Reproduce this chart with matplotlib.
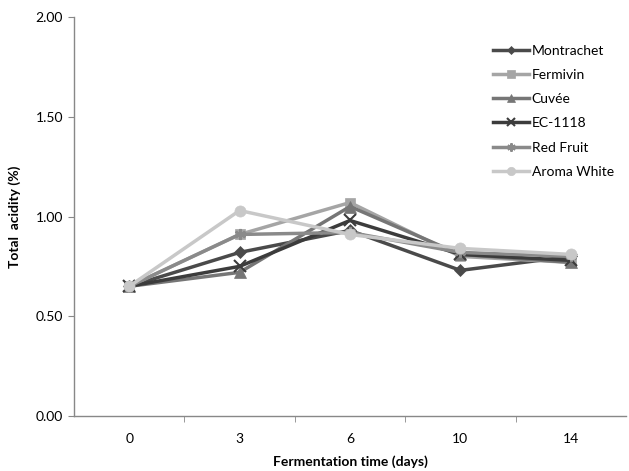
import matplotlib
matplotlib.use("Agg")
import matplotlib.pyplot as plt
import numpy as np

plt.rcParams['font.family'] = ['Lato', 'DejaVu Sans']

days = ["0", "3", "6", "10", "14"]
montrachet = [0.65, 0.82, 0.93, 0.73, 0.80]
fermivin = [0.65, 0.91, 1.07, 0.80, 0.77]
cuvee = [0.65, 0.72, 1.05, 0.81, 0.77]
ec1118 = [0.65, 0.75, 0.98, 0.81, 0.78]
red_fruit = [0.65, 0.91, 0.92, 0.82, 0.80]
aroma_white = [0.65, 1.03, 0.91, 0.84, 0.81]

series = [
    ("Montrachet", montrachet, "#4a4a4a", "D", 6),
    ("Fermivin", fermivin, "#a5a5a5", "s", 7),
    ("Cuvée", cuvee, "#767676", "^", 8),
    ("EC-1118", ec1118, "#3c3c3c", "x", 8),
    ("Red Fruit", red_fruit, "#8a8a8a", (6, 2, 0), 8),
    ("Aroma White", aroma_white, "#c8c8c8", "o", 8),
]

fig = plt.figure(figsize=(6.29, 4.71), dpi=100)
ax = fig.add_axes([74/629, 1-416/471, 552/629, 399/471])

x = np.arange(len(days))
for name, vals, col, mk, ms in series:
    ax.plot(x, vals, color=col, marker=mk, markersize=ms, linewidth=2.5,
            markeredgewidth=1.5 if mk in ("x", (6, 2, 0)) else 0.5,
            markeredgecolor=col, label=name)

ax.set_xlim(-0.5, 4.5)
ax.set_ylim(0, 2.0)
ax.set_yticks([0, 0.5, 1.0, 1.5, 2.0])
ax.set_yticklabels(["0.00", "0.50", "1.00", "1.50", "2.00"], fontsize=10)
ax.set_xticks(x)
ax.set_xticklabels(days, fontsize=10)
ax.set_xticks([0.5, 1.5, 2.5, 3.5], minor=True)
ax.tick_params(axis='x', which='major', length=0, pad=12)
ax.tick_params(axis='x', which='minor', length=4, color='#888888')
ax.tick_params(axis='y', length=4, color='#888888', pad=4)

for s in ("top", "right"):
    ax.spines[s].set_visible(False)
for s in ("left", "bottom"):
    ax.spines[s].set_color("#888888")
    ax.spines[s].set_linewidth(1)

ax.set_ylabel("Total  acidity (%)", fontsize=10, fontweight='bold', labelpad=10)
ax.set_xlabel("Fermentation time (days)", fontsize=10, fontweight='bold', labelpad=8)

ax.legend(loc='upper left', bbox_to_anchor=(0.737, 0.962), frameon=False,
          fontsize=10, handlelength=2.6, labelspacing=0.88, handletextpad=0.15,
          markerscale=0.75)

fig.savefig("out.png", dpi=100)
